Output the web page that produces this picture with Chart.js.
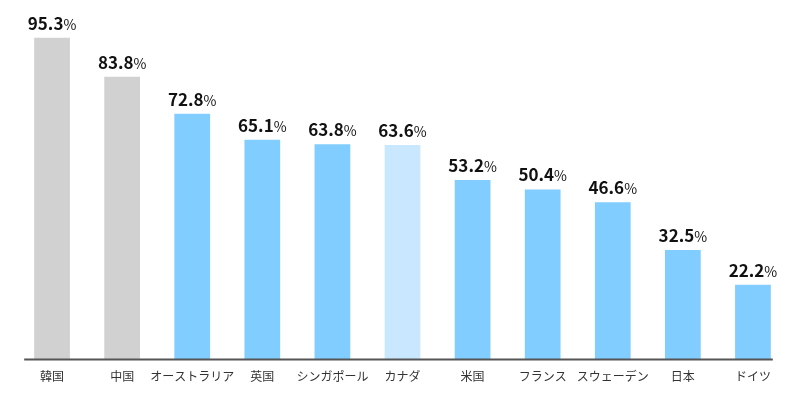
<!DOCTYPE html>
<html>
<head>
<meta charset="utf-8">
<script src="https://cdn.jsdelivr.net/npm/chart.js@4/dist/chart.umd.min.js"></script>
<style>
  html, body { margin: 0; padding: 0; background: #fff; }
  #wrap { width: 800px; height: 400px; }
</style>
</head>
<body>
<div id="wrap"><canvas id="c"></canvas></div>
<script>
const countries = ['韓国', '中国', 'オーストラリア', '英国', 'シンガポール', 'カナダ', '米国', 'フランス', 'スウェーデン', '日本', 'ドイツ'];
const rates = [95.3, 83.8, 72.8, 65.1, 63.8, 63.6, 53.2, 50.4, 46.6, 32.5, 22.2];
const barColors = ['#d1d1d1', '#d1d1d1', '#82cdff', '#82cdff', '#82cdff', '#c9e7ff', '#82cdff', '#82cdff', '#82cdff', '#82cdff', '#82cdff'];

const fontJP = "'Noto Sans CJK JP', 'Noto Sans', sans-serif";

// value labels: bold number + smaller %
const valueLabels = {
  id: 'valueLabels',
  afterDatasetsDraw(chart) {
    const ctx = chart.ctx;
    const meta = chart.getDatasetMeta(0);
    ctx.save();
    ctx.textBaseline = 'alphabetic';
    ctx.fillStyle = '#111';
    meta.data.forEach((bar, i) => {
      const num = rates[i].toFixed(1);
      ctx.font = "bold 17px " + fontJP;
      const w1 = ctx.measureText(num).width;
      ctx.font = "14px " + fontJP;
      const w2 = ctx.measureText('%').width;
      let x = bar.x - (w1 + w2) / 2;
      const y = bar.y - 8;
      ctx.textAlign = 'left';
      ctx.font = "bold 17px " + fontJP;
      ctx.fillText(num, x, y);
      ctx.font = "14px " + fontJP;
      ctx.fillText('%', x + w1, y);
    });
    ctx.restore();
  }
};

// baseline spanning the bars
const baseLine = {
  id: 'baseLine',
  afterDatasetsDraw(chart) {
    const ctx = chart.ctx;
    const meta = chart.getDatasetMeta(0);
    const first = meta.data[0], last = meta.data[meta.data.length - 1];
    const y = chart.scales.y.getPixelForValue(0);
    ctx.save();
    ctx.strokeStyle = '#555';
    ctx.lineWidth = 2;
    ctx.beginPath();
    ctx.moveTo(first.x - first.width / 2 - 10, y);
    ctx.lineTo(last.x + last.width / 2 + 2, y);
    ctx.stroke();
    ctx.restore();
  }
};

new Chart(document.getElementById('c').getContext('2d'), {
  type: 'bar',
  data: {
    labels: countries,
    datasets: [{
      data: rates,
      backgroundColor: barColors,
      borderWidth: 0,
      barPercentage: 0.51,
      categoryPercentage: 1
    }]
  },
  options: {
    responsive: true,
    maintainAspectRatio: false,
    animation: false,
    layout: { padding: { left: 17, right: 12, top: 22, bottom: 6 } },
    plugins: {
      legend: { display: false },
      tooltip: { enabled: false }
    },
    scales: {
      x: {
        grid: { display: false, drawTicks: false },
        border: { display: false },
        ticks: {
          color: '#333',
          font: { family: fontJP, size: 12 },
          padding: 10,
          maxRotation: 0,
          autoSkip: false
        }
      },
      y: {
        display: false,
        min: 0,
        max: 100
      }
    }
  },
  plugins: [valueLabels, baseLine]
});
</script>
</body>
</html>
